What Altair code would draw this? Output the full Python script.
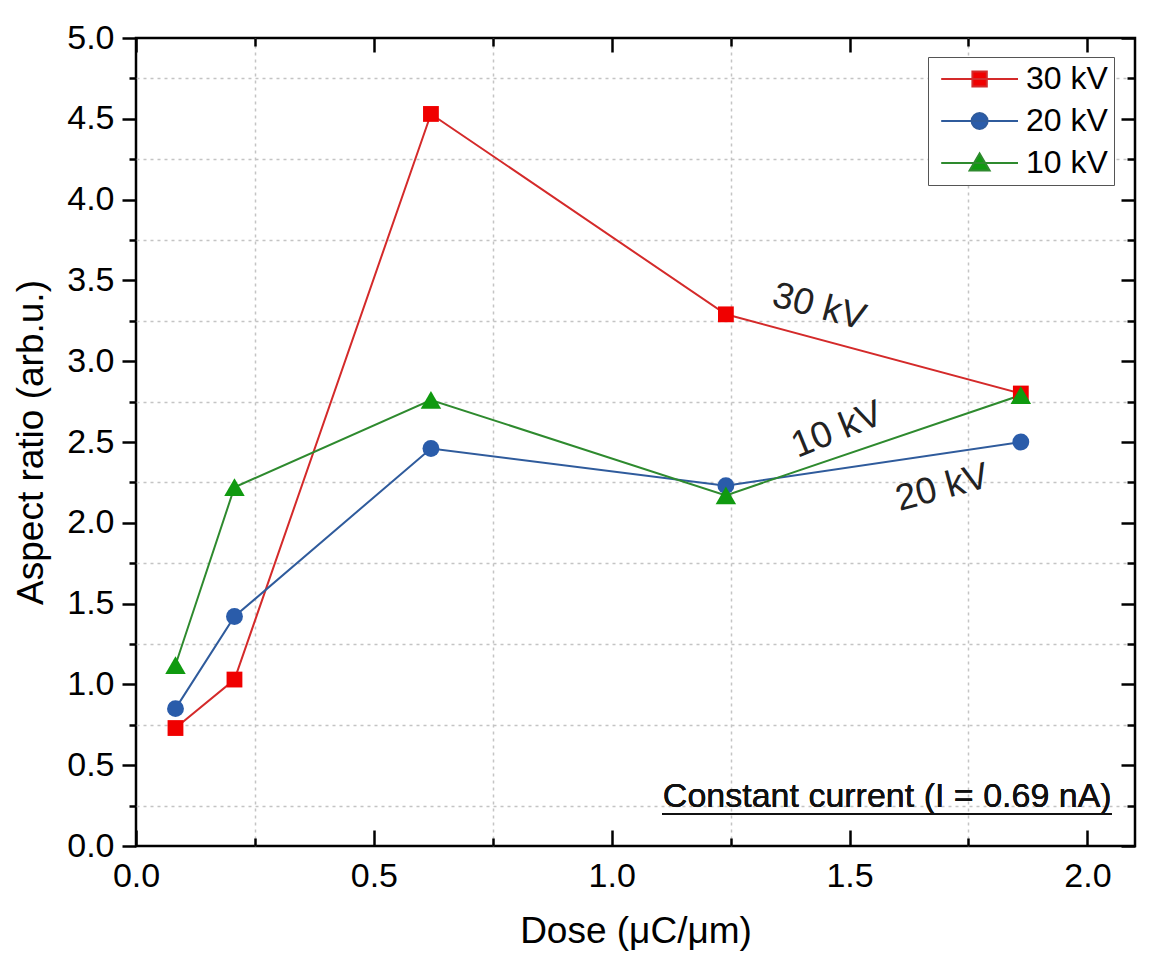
import altair as alt
import pandas as pd

# ---------------- data ----------------
dose = [0.083, 0.207, 0.62, 1.24, 1.86]
ratio_30kv = [0.73, 1.03, 4.53, 3.29, 2.80]
ratio_20kv = [0.85, 1.42, 2.46, 2.23, 2.50]
ratio_10kv = [1.12, 2.22, 2.76, 2.17, 2.79]
series = ["30 kV", "20 kV", "10 kV"]

x_major = [0.0, 0.5, 1.0, 1.5, 2.0]
x_minor = [0.25, 0.75, 1.25, 1.75]
y_major = [0.0, 0.5, 1.0, 1.5, 2.0, 2.5, 3.0, 3.5, 4.0, 4.5, 5.0]
y_minor = [0.25, 0.75, 1.25, 1.75, 2.25, 2.75, 3.25, 3.75, 4.25, 4.75]

annot_text = ["30 kV", "10 kV", "20 kV"]
annot_x = [1.436, 1.474, 1.695]
annot_y = [3.335, 2.574, 2.215]
annot_angle = [15, 338, 345]

note_text = "Constant current (I = 0.69 nA)"
note_x = 2.051
note_y = 0.24
underline_x = [1.106, 2.051]
underline_y = 0.198

# ---------------- styles ----------------
FONT = "Liberation Sans"
line_colors = ["#d42a2a", "#2f5b9c", "#2e8a2e"]
marker_colors = ["#f00000", "#2a5caa", "#109a10"]
marker_shapes = ["square", "circle", "triangle-up"]
marker_sizes = [250, 285, 420]
legend_paths = [
    "M-1.1,0H8.5M2.8,-0.95H4.6V0.95H2.8Z",
    "M-1.1,0H8.5M2.7,0A1,1,0,1,0,4.7,0A1,1,0,1,0,2.7,0Z",
    "M-1.1,0H8.5M3.7,-1.2L4.95,0.95H2.45Z",
]

rows = []
for s, vals in zip(series, [ratio_30kv, ratio_20kv, ratio_10kv]):
    for d, v in zip(dose, vals):
        rows.append({"dose": d, "ratio": v, "series": s})
df = pd.DataFrame(rows)
annot_df = pd.DataFrame({"label": annot_text, "x": annot_x, "y": annot_y, "angle": annot_angle})
legend_df = pd.DataFrame({"series": series})

xs = alt.Scale(domain=[0, 2.1], nice=False, zero=False)
ys = alt.Scale(domain=[0, 5], nice=False, zero=False)


def xnone(field="dose:Q"):
    return alt.X(field, scale=xs, axis=None)


def ynone(field="ratio:Q"):
    return alt.Y(field, scale=ys, axis=None)


def tick_axis(orient, values, size, offset=0):
    return alt.Axis(orient=orient, values=values, tickSize=size, offset=offset,
                    tickWidth=2.5, tickColor="black", labels=False, domain=False,
                    grid=False, title="")


def axis_layer(xaxis, yaxis):
    return alt.Chart(df).mark_point(opacity=0).encode(
        x=alt.X("dose:Q", scale=xs, axis=xaxis),
        y=alt.Y("ratio:Q", scale=ys, axis=yaxis),
    )


grid = axis_layer(
    alt.Axis(orient="bottom", values=x_minor, grid=True, ticks=False, labels=False, domain=False,
             gridDash=[3, 4], gridColor="#c4c4c4", gridWidth=1.5, title=""),
    alt.Axis(orient="left", values=y_minor, grid=True, ticks=False, labels=False, domain=False,
             gridDash=[3, 4], gridColor="#c4c4c4", gridWidth=1.5, title=""),
)

lines = alt.Chart(df).mark_line(strokeWidth=2).encode(
    x=alt.X("dose:Q", scale=xs, axis=alt.Axis(
        orient="bottom", values=x_major, format=".1f", offset=-16, tickSize=16, tickWidth=2.5,
        tickColor="black", domain=False, grid=False, labelFontSize=34, labelColor="black",
        labelPadding=13, labelFlush=False, title="Dose (μC/μm)", titleFontSize=37,
        titleFontWeight="normal", titleColor="black", titlePadding=20)),
    y=alt.Y("ratio:Q", scale=ys, axis=alt.Axis(
        orient="left", values=y_major, format=".1f", tickSize=14, tickWidth=2.5,
        tickColor="black", domain=False, grid=False, labelFontSize=34, labelColor="black",
        labelPadding=8, labelFlush=False, title="Aspect ratio (arb.u.)", titleFontSize=37,
        titleFontWeight="normal", titleColor="black", titlePadding=16)),
    stroke=alt.Stroke("series:N", scale=alt.Scale(domain=series, range=line_colors), legend=None),
    detail="series:N",
)

point_layers = []
for s, col, shp, sz in zip(series, marker_colors, marker_shapes, marker_sizes):
    point_layers.append(
        alt.Chart(df).transform_filter(alt.datum.series == s).mark_point(
            filled=True, opacity=1, strokeWidth=0, shape=shp, size=sz, color=col
        ).encode(x=xnone(), y=ynone())
    )

annots = alt.Chart(annot_df).mark_text(font=FONT, fontSize=37, color="#222222").encode(
    x=xnone("x:Q"), y=ynone("y:Q"), text="label:N",
    angle=alt.Angle("angle:Q", scale=None),
)

note = alt.Chart(legend_df).mark_text(font=FONT, fontSize=34, color="#111111", align="right",
                                       baseline="alphabetic").encode(
    x=alt.X(datum=note_x, scale=xs, axis=None),
    y=alt.Y(datum=note_y, scale=ys, axis=None),
    text=alt.value(note_text),
)

underline = alt.Chart(legend_df).mark_rule(strokeWidth=2, color="#111111").encode(
    x=alt.X(datum=underline_x[0], scale=xs, axis=None),
    x2=alt.X2(datum=underline_x[1]),
    y=alt.Y(datum=underline_y, scale=ys, axis=None),
)

ticks_bl = axis_layer(tick_axis("bottom", x_minor, 8, -8), tick_axis("left", y_minor, 7))
ticks_t = axis_layer(tick_axis("top", x_major, 14, -14), tick_axis("right", y_major, 14, -14))
ticks_t2 = axis_layer(tick_axis("top", x_minor, 8, -8), tick_axis("right", y_minor, 8, -8))

leg = alt.Legend(title=None, orient="none", legendX=792, legendY=19, padding=6,
                 strokeColor="#555555", fillColor="white", symbolSize=256,
                 symbolStrokeWidth=2, symbolOpacity=1, labelFontSize=32, labelFont=FONT,
                 labelColor="black", labelOffset=60, rowPadding=10)
legend_layer = alt.Chart(legend_df).mark_point(filled=True, opacity=1).encode(
    fill=alt.Fill("series:N", scale=alt.Scale(domain=series, range=marker_colors), legend=leg),
    stroke=alt.Stroke("series:N", scale=alt.Scale(domain=series, range=line_colors), legend=leg),
    shape=alt.Shape("series:N", scale=alt.Scale(domain=series, range=legend_paths), legend=leg),
).transform_filter("false")

chart = alt.layer(
    grid, lines, *point_layers, annots, note, underline, ticks_bl, ticks_t, ticks_t2, legend_layer
).resolve_axis(
    x="independent", y="independent"
).resolve_scale(
    fill="independent", stroke="independent", shape="independent"
).properties(
    width=999, height=808,
    padding={"left": 136, "top": 38, "right": 18, "bottom": 115},
    autosize=alt.AutoSizeParams(type="none"),
    background="white",
).configure_view(
    stroke="black", strokeWidth=2.5
).configure_axis(
    labelFont=FONT, titleFont=FONT
)

chart.save("out.html", embed_options={"renderer": "svg", "actions": False})
